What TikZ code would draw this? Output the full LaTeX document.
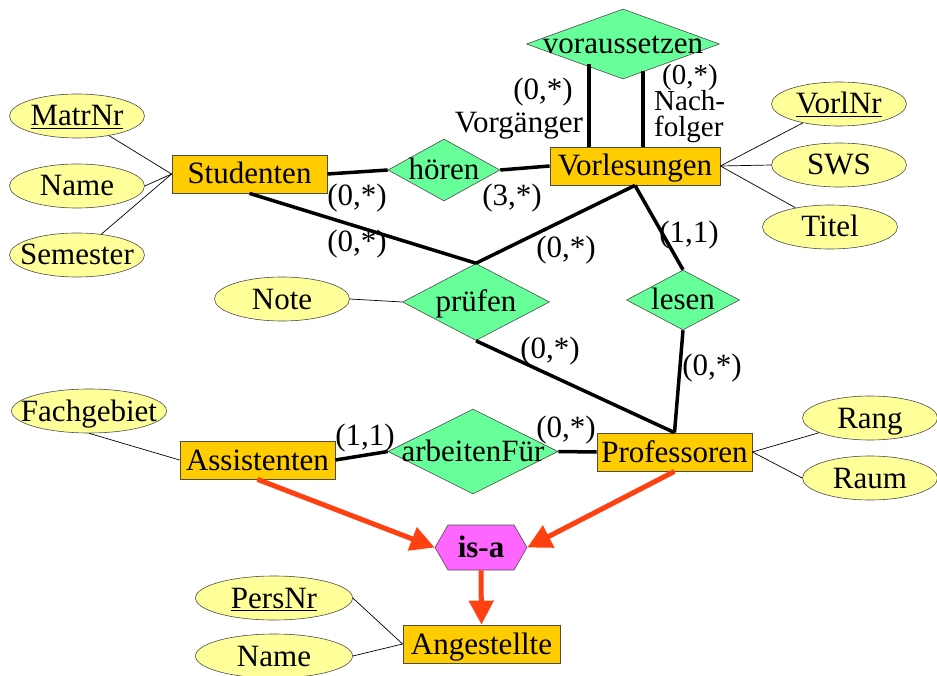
\documentclass[tikz,border=0pt]{standalone}
\usepackage{fontspec}
\setmainfont{Liberation Serif}
\usetikzlibrary{shapes,arrows.meta,positioning}

\definecolor{entityfill}{RGB}{255,204,0}
\definecolor{relfill}{RGB}{102,255,153}
\definecolor{attrfill}{RGB}{255,255,153}
\definecolor{isafill}{RGB}{255,102,255}
\definecolor{isared}{RGB}{255,64,16}

\newcommand{\ztext}[1]{\makebox[0pt]{#1}}

\begin{document}
\begin{tikzpicture}[x=1pt,y=-1pt,
		font=\fontsize{31}{22}\selectfont,
		every node/.style={text height=20pt,text depth=0pt,inner sep=0pt},
		entity/.style={rectangle,draw=black!70,line width=0.8pt,fill=entityfill,minimum width=155pt,minimum height=38pt},
		relship/.style={diamond,draw=black!70,line width=0.6pt,fill=relfill},
		attr/.style={ellipse,draw=black!70,line width=0.6pt,fill=attrfill,minimum width=135pt,minimum height=44pt},
		isa/.style={signal,signal to=east and west,signal pointer angle=120,draw=black!70,line width=0.6pt,fill=isafill,minimum width=92pt,minimum height=45pt},
		card/.style={anchor=base},
		role/.style={font=\fontsize{29}{22}\selectfont,text height=19pt},
		relline/.style={line width=3.5pt},
		attrline/.style={line width=0.7pt},
		isaline/.style={isared,line width=5pt,-{Triangle[length=24pt,width=24pt]}}]
		\useasboundingbox (0,0) rectangle (937,676);

		% entities
		\node[entity]						(studenten)		at (249.5,174)	{Studenten};
		\node[entity,minimum width=170pt]	(vorlesungen)	at (635,166)	{Vorlesungen};
		\node[entity]						(professoren)	at (674.5,452)	{Professoren};
		\node[entity]						(assistenten)	at (257.5,460)	{Assistenten};
		\node[entity,minimum width=157pt]	(angestellte)	at (481.5,644)	{Angestellte};

		% relationships
		\node[relship,minimum width=193pt,minimum height=70pt]	(voraussetzen)	at (623,44)		{\ztext{voraussetzen}};
		\node[relship,minimum width=112pt,minimum height=62pt]	(hoeren)		at (444,170)	{\ztext{hören}};
		\node[relship,minimum width=147pt,minimum height=77pt]	(pruefen)		at (476,302)	{\ztext{prüfen}};
		\node[relship,minimum width=113pt,minimum height=60pt]	(lesen)			at (683,300)	{\ztext{lesen}};
		\node[relship,minimum width=170pt,minimum height=85pt]	(arbeitenfuer)	at (473,451.5)	{\ztext{arbeitenFür}};
		\node[isa]	(isa)	at (481,547.5)	{\ztext{\bfseries is-a}};

		% attributes
		\node[attr]	(matrnr)	at (77,116)		{\ztext{\underline{MatrNr}}};
		\node[attr]	(sname)		at (77,186)		{\ztext{Name}};
		\node[attr]	(semester)	at (77,255)		{\ztext{Semester}};
		\node[attr]	(vorlnr)	at (839,104)	{\ztext{\underline{VorlNr}}};
		\node[attr]	(sws)		at (839,165)	{\ztext{SWS}};
		\node[attr]	(titel)		at (830,227)	{\ztext{Titel}};
		\node[attr]	(note)		at (282,299)	{\ztext{Note}};
		\node[attr,minimum width=155pt]	(fachgebiet)	at (89,411)	{\ztext{Fachgebiet}};
		\node[attr]	(rang)		at (870,418)	{\ztext{Rang}};
		\node[attr]	(raum)		at (870,478)	{\ztext{Raum}};
		\node[attr,minimum width=157pt]	(persnr)	at (274,598)	{\ztext{\underline{PersNr}}};
		\node[attr,minimum width=157pt]	(aname)		at (274,656)	{\ztext{Name}};

		% attribute lines
		\draw[attrline] (matrnr) -- (studenten.west);
		\draw[attrline] (sname.east) -- (studenten.west);
		\draw[attrline] (semester) -- (studenten.west);
		\draw[attrline] (vorlnr) -- (vorlesungen.east);
		\draw[attrline] (sws.west) -- (vorlesungen.east);
		\draw[attrline] (titel) -- (vorlesungen.east);
		\draw[attrline] (note.east) -- (pruefen.west);
		\draw[attrline] (fachgebiet.south) -- (assistenten.west);
		\draw[attrline] (rang) -- (professoren.east);
		\draw[attrline] (raum.west) -- (professoren.east);
		\draw[attrline] (persnr.east) -- (angestellte.west);
		\draw[attrline] (aname.east) -- (angestellte.west);

		% relationship lines
		\draw[relline] (studenten.east) -- (hoeren.west);
		\draw[relline] (hoeren.east) -- (vorlesungen.west);
		\draw[relline] ([xshift=-46pt]vorlesungen.north) -- ++(0,-83);
		\draw[relline] ([xshift=8pt]vorlesungen.north) -- ++(0,-76);
		\draw[relline] (studenten.south) -- (pruefen.north);
		\draw[relline] (vorlesungen.south) -- (pruefen.north);
		\draw[relline] (vorlesungen.south) -- (lesen.north);
		\draw[relline] (pruefen.south) -- (professoren.north);
		\draw[relline] (lesen.south) -- (professoren.north);
		\draw[relline] (assistenten.east) -- (arbeitenfuer.west);
		\draw[relline] (arbeitenfuer.east) -- (professoren.west);

		% is-a
		\draw[isaline] (assistenten.south) -- (isa.west);
		\draw[isaline] (professoren.south) -- (isa.east);
		\draw[isaline] (isa.south) -- (angestellte.north);

		% cardinalities and roles
		\node[card] (cvl)	at (543,100)	{(0,*)};
		\node[anchor=base east] (vorg)	at (583,133)	{Vorgänger};
		\node[card,role] (cvr)	at (690,85)		{(0,*)};
		\node[anchor=base west,role] (nach)	at (654,111)	{Nach-};
		\node[anchor=base west,role] (folger)	at (654,137)	{folger};
		\node[card] (csh)	at (357,206)	{(0,*)};
		\node[card] (cvh)	at (512,206)	{(3,*)};
		\node[card] (csp)	at (357,252)	{(0,*)};
		\node[card] (cvp)	at (566,258)	{(0,*)};
		\node[card] (cvlz)	at (689,243)	{(1,1)};
		\node[card] (cpp)	at (550,358)	{(0,*)};
		\node[card] (cpl)	at (712,375)	{(0,*)};
		\node[card] (caa)	at (365,445)	{(1,1)};
		\node[card] (cpa)	at (566,437)	{(0,*)};
\end{tikzpicture}
\end{document}
